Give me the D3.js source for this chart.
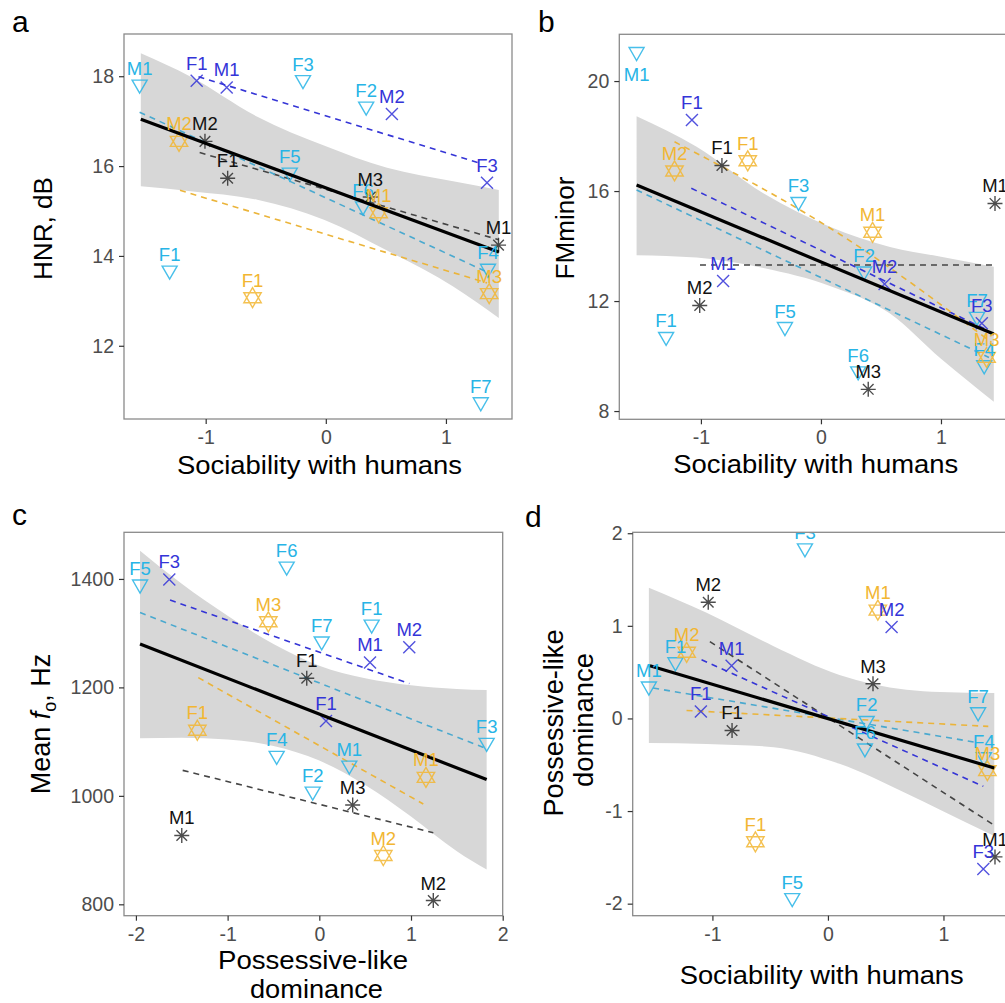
<!DOCTYPE html>
<html><head><meta charset="utf-8">
<script src="https://cdn.jsdelivr.net/npm/d3@7"></script>
<style>
body{margin:0;background:#fff}
svg{display:block}
text{font-family:"Liberation Sans",Arial,Helvetica,sans-serif}
</style>
</head><body>
<svg id="chart" width="1005" height="1003"></svg>
<script>
// ---------------- DATA ----------------
// Panel a: HNR vs sociability
const aLabel = ["M1","F3","F2","F1","F5","F6","F4","F7","F1","M1","M2","F3","M2","F1","M1","M3","M2","F1","M3","M1"];
const aGroup = ["cy","cy","cy","cy","cy","cy","cy","cy","bl","bl","bl","bl","or","or","or","or","bk","bk","bk","bk"];
const aX = [-1.55,-0.19,0.336,-1.30,-0.30,0.31,1.35,1.29,-1.075,-0.825,0.55,1.342,-1.222,-0.61,0.44,1.36,-1.006,-0.817,0.37,1.438];
const aY = [17.78,17.88,17.29,13.64,15.82,15.07,13.68,10.71,17.9,17.75,17.16,15.63,16.55,13.07,14.96,13.16,16.55,15.73,15.31,14.24];
const aFitX = [-1.54,1.44];
const aFitY = [17.04,14.09];
const aBandX = [-1.54,-1.125,-0.57,-0.01,0.51,1.06,1.44];
const aBandHi = [18.51,17.99,17.10,16.45,15.96,15.66,15.47];
const aBandLo = [15.55,15.44,15.25,14.80,14.12,13.32,12.62];
const aDashGroup = ["bl","bk","cy","or"];
const aDashX = [[-1.06,1.30],[-1.05,1.44],[-1.55,1.36],[-1.214,1.342]];
const aDashY = [[17.99,16.05],[16.30,14.36],[17.20,13.62],[15.46,13.40]];
const aXTicks = [-1,0,1];
const aYTicks = [12,14,16,18];

// Panel b: FMminor vs sociability
const bLabel = ["M1","F1","F3","F5","F2","F6","F7","F4","F1","M1","M2","F3","M2","F1","M1","M3","F1","M1","M2","M3"];
const bGroup = ["cy","cy","cy","cy","cy","cy","cy","cy","bl","bl","bl","bl","or","or","or","or","bk","bk","bk","bk"];
const bX = [-1.536,-1.29,-0.187,-0.30,0.36,0.31,1.30,1.36,-1.075,-0.815,0.53,1.34,-1.22,-0.61,0.43,1.38,-0.825,1.45,-1.01,0.394];
const bY = [21.0,10.64,15.55,11.0,13.02,9.39,11.37,9.61,18.58,12.73,12.62,11.19,16.73,17.1,14.5,9.95,16.93,15.55,11.84,8.79];
const bFitX = [-1.536,1.44];
const bFitY = [16.22,10.80];
const bBandX = [-1.536,-1.036,-0.48,0.075,0.575,1.0,1.44];
const bBandHi = [18.72,17.61,15.92,14.70,13.97,13.61,13.25];
const bBandLo = [13.67,13.58,13.20,12.55,11.55,9.90,8.34];
const bDashGroup = ["bk","bl","cy","or"];
const bDashX = [[-1.008,1.45],[-1.08,1.36],[-1.536,1.40],[-1.22,0.16,1.42]];
const bDashY = [[13.31,13.31],[16.10,11.00],[16.04,9.95],[17.79,14.42,10.50]];
const bXTicks = [-1,0,1];
const bYTicks = [8,12,16,20];

// Panel c: mean f0 vs possessive-like dominance
const cLabel = ["F5","F6","F7","F1","F3","F4","M1","F2","F3","M1","M2","F1","M3","F1","M1","M2","F1","M3","M1","M2"];
const cGroup = ["cy","cy","cy","cy","cy","cy","cy","cy","bl","bl","bl","bl","or","or","or","or","bk","bk","bk","bk"];
const cX = [-1.955,-0.356,0.026,0.571,1.825,-0.465,0.327,-0.072,-1.636,0.553,0.981,0.073,-0.556,-1.33,1.163,0.698,-0.137,0.364,-1.50,1.243];
const cY = [1387,1420,1282,1313,1095,1071,1053,1005,1399,1246,1274,1138,1321,1121,1034,890,1217,983,927,807];
const cFitX = [-1.955,1.825];
const cFitY = [1280,1030];
const cBandX = [-1.955,-1.5,-1.0,-0.5,0,0.5,1.0,1.5,1.825];
const cBandHi = [1452,1391,1332,1280,1240,1217,1204,1197,1195];
const cBandLo = [1106,1107,1104,1092,1065,1020,962,898,864];
const cDashGroup = ["bl","cy","or","bk"];
const cDashX = [[-1.628,0.982],[-1.955,1.825],[-1.32,1.134],[-1.49,1.243]];
const cDashY = [[1361,1207],[1338,1087],[1218,985],[1047,932]];
const cXTicks = [-2,-1,0,1,2];
const cYTicks = [800,1000,1200,1400];

// Panel d: possessive-like dominance vs sociability
const dLabel = ["F3","F2","F6","F7","F4","F5","M1","F1","M2","F3","M1","F1","M1","M3","F1","M2","M2","M3","M1","F1"];
const dGroup = ["cy","cy","cy","cy","cy","cy","cy","cy","bl","bl","bl","bl","or","or","or","or","bk","bk","bk","bk"];
const dX = [-0.199,0.335,0.32,1.30,1.35,-0.309,-1.55,-1.32,0.551,1.345,-0.834,-1.10,0.432,1.38,-0.628,-1.223,-1.036,0.39,1.446,-0.83];
const dY = [1.82,-0.043,-0.34,0.05,-0.435,-1.956,0.328,0.59,0.988,-1.625,0.568,0.076,1.17,-0.563,-1.332,0.714,1.255,0.374,-1.495,-0.13];
const dFitX = [-1.541,1.44];
const dFitY = [0.569,-0.535];
const dBandX = [-1.55,-1.05,-0.47,0.1,0.68,0.97,1.44];
const dBandHi = [1.41,1.14,0.78,0.47,0.31,0.285,0.274];
const dBandLo = [-0.265,-0.275,-0.31,-0.49,-0.81,-0.985,-1.27];
const dDashGroup = ["bk","bl","cy","or"];
const dDashX = [[-1.022,1.431],[-1.094,1.345],[-1.513,1.287],[-1.224,1.388]];
const dDashY = [[0.83,-1.147],[0.633,-0.733],[0.328,-0.259],[0.086,-0.086]];
const dXTicks = [-1,0,1];
const dYTicks = [-2,-1,0,1,2];

// ---------------- STYLE ----------------
const markColor = {cy:"#27b4e6", bl:"#3434d8", or:"#f2b632", bk:"#2e2e2e"};
const dashColor = {cy:"#4aa9cf", bl:"#3535d6", or:"#ebb43a", bk:"#454545"};
const symPath = {
  cy: "M-7.5,-6L7.5,-6L0,7Z",
  bl: "M-6,-6L6,6M-6,6L6,-6",
  bk: "M-7.5,0L7.5,0M0,-7.5L0,7.5M-5.3,-5.3L5.3,5.3M-5.3,5.3L5.3,-5.3",
  or: "M0,-10L8.7,5L-8.7,5ZM0,10L8.7,-5L-8.7,-5Z"
};

const svg = d3.select("#chart");
const fmt = d => String(d);

const panels = [
  {id:"a", xd:[-1.68,1.55], xr:[124,512], yd:[10.37,18.94], yr:[419,34],
   label:aLabel, group:aGroup, x:aX, y:aY, fitX:aFitX, fitY:aFitY,
   bandX:aBandX, bandHi:aBandHi, bandLo:aBandLo, dashG:aDashGroup, dashX:aDashX, dashY:aDashY,
   xt:aXTicks, yt:aYTicks, below:[]},
  {id:"b", xd:[-1.68,1.55], xr:[619.3,1007], yd:[7.7,21.7], yr:[419.3,34.3],
   label:bLabel, group:bGroup, x:bX, y:bY, fitX:bFitX, fitY:bFitY,
   bandX:bBandX, bandHi:bBandHi, bandLo:bBandLo, dashG:bDashGroup, dashX:bDashX, dashY:bDashY,
   xt:bXTicks, yt:bYTicks, below:[0]},
  {id:"c", xd:[-2.13,2.0], xr:[124,502.7], yd:[779,1486], yr:[915.7,532.3],
   label:cLabel, group:cGroup, x:cX, y:cY, fitX:cFitX, fitY:cFitY,
   bandX:cBandX, bandHi:cBandHi, bandLo:cBandLo, dashG:cDashGroup, dashX:cDashX, dashY:cDashY,
   xt:cXTicks, yt:cYTicks, below:[]},
  {id:"d", xd:[-1.69,1.55], xr:[632.7,1007], yd:[-2.13,2.01], yr:[915.7,532.3],
   label:dLabel, group:dGroup, x:dX, y:dY, fitX:dFitX, fitY:dFitY,
   bandX:dBandX, bandHi:dBandHi, bandLo:dBandLo, dashG:dDashGroup, dashX:dDashX, dashY:dDashY,
   xt:dXTicks, yt:dYTicks, below:[]}
];

panels.forEach(p => {
  const xs = d3.scaleLinear().domain(p.xd).range(p.xr);
  const ys = d3.scaleLinear().domain(p.yd).range(p.yr);
  const x0 = p.xr[0], x1 = p.xr[1], yTop = p.yr[1], yBot = p.yr[0];

  svg.append("clipPath").attr("id", "clip-" + p.id)
    .append("rect").attr("x", x0).attr("y", yTop).attr("width", x1 - x0).attr("height", yBot - yTop);

  const g = svg.append("g").attr("clip-path", `url(#clip-${p.id})`);

  // confidence band
  const band = p.bandX.map((v, i) => ({x: v, hi: p.bandHi[i], lo: p.bandLo[i]}));
  g.append("path").datum(band)
    .attr("d", d3.area().x(d => xs(d.x)).y0(d => ys(d.lo)).y1(d => ys(d.hi)).curve(d3.curveMonotoneX))
    .attr("fill", "#d7d7d7");

  // group dashed fits
  p.dashG.forEach((grp, k) => {
    const pts = p.dashX[k].map((v, i) => [v, p.dashY[k][i]]);
    g.append("path").datum(pts)
      .attr("d", d3.line().x(d => xs(d[0])).y(d => ys(d[1])).curve(d3.curveMonotoneX))
      .attr("fill", "none").attr("stroke", dashColor[grp]).attr("stroke-width", 1.6)
      .attr("stroke-dasharray", "6,5");
  });

  // points
  p.x.forEach((v, i) => {
    const grp = p.group[i];
    g.append("path")
      .attr("transform", `translate(${xs(v)},${ys(p.y[i])})`)
      .attr("d", symPath[grp])
      .attr("fill", "none").attr("stroke", markColor[grp])
      .attr("stroke-width", 1.4).attr("stroke-opacity", 0.85);
  });

  // overall fit line
  const fit = p.fitX.map((v, i) => [v, p.fitY[i]]);
  g.append("path").datum(fit)
    .attr("d", d3.line().x(d => xs(d[0])).y(d => ys(d[1])))
    .attr("fill", "none").attr("stroke", "#000").attr("stroke-width", 3.2);

  // labels
  p.x.forEach((v, i) => {
    const grp = p.group[i];
    const below = p.below.includes(i);
    g.append("text")
      .attr("x", xs(v)).attr("y", ys(p.y[i]) + (below ? 27 : -11))
      .attr("text-anchor", "middle").attr("font-size", 18.5)
      .attr("fill", markColor[grp] === "#2e2e2e" ? "#111" : markColor[grp])
      .text(p.label[i]);
  });

  // panel border
  svg.append("rect").attr("x", x0).attr("y", yTop).attr("width", x1 - x0).attr("height", yBot - yTop)
    .attr("fill", "none").attr("stroke", "#8a8a8a").attr("stroke-width", 1.3);

  // axes
  const ax = svg.append("g").attr("transform", `translate(0,${yBot})`)
    .call(d3.axisBottom(xs).tickValues(p.xt).tickFormat(fmt).tickSize(5).tickPadding(6));
  const ay = svg.append("g").attr("transform", `translate(${x0},0)`)
    .call(d3.axisLeft(ys).tickValues(p.yt).tickFormat(fmt).tickSize(5).tickPadding(5));
  [ax, ay].forEach(a => {
    a.select(".domain").remove();
    a.selectAll(".tick line").attr("stroke", "#333").attr("stroke-width", 1.2);
    a.selectAll(".tick text").attr("fill", "#4d4d4d").attr("font-size", 19.5)
      .attr("font-family", "'Liberation Sans',Arial,sans-serif");
  });
});

// ---------------- TITLES ----------------
function title(x, y, txt, len, size, rot) {
  const t = svg.append("text")
    .attr("transform", `translate(${x},${y})` + (rot ? " rotate(-90)" : ""))
    .attr("text-anchor", "middle").attr("font-size", size).attr("fill", "#000")
    .text(txt);
  if (len) t.attr("textLength", len).attr("lengthAdjust", "spacingAndGlyphs");
  return t;
}
// x titles
title(319.5, 474, "Sociability with humans", 285, 26);
title(815.8, 473, "Sociability with humans", 285, 26);
title(313, 969, "Possessive-like", 190, 26);
title(316.5, 998, "dominance", 133, 26);
title(821.7, 984, "Sociability with humans", 284, 26);
// y titles
title(52, 228.5, "HNR, dB", 103, 26, true);
title(574, 228, "FMminor", 103, 26, true);
title(563, 723, "Possessive-like", 187, 27, true);
title(593, 720, "dominance", 134, 27, true);
// Mean f0, Hz
const mt = svg.append("text")
  .attr("transform", "translate(49.5,724) rotate(-90)")
  .attr("text-anchor", "middle").attr("font-size", 27).attr("fill", "#000");
mt.append("tspan").text("Mean ");
mt.append("tspan").attr("font-style", "italic").text("f");
mt.append("tspan").attr("font-size", 18).attr("dy", 6).text("o");
mt.append("tspan").attr("dy", -6).text(", Hz");

// panel letters
[["a",12,32],["b",538,32],["c",12,525],["d",525,527]].forEach(([t, x, y]) => {
  svg.append("text").attr("x", x).attr("y", y).attr("font-size", 30).attr("fill", "#000").text(t);
});
</script>
</body></html>
